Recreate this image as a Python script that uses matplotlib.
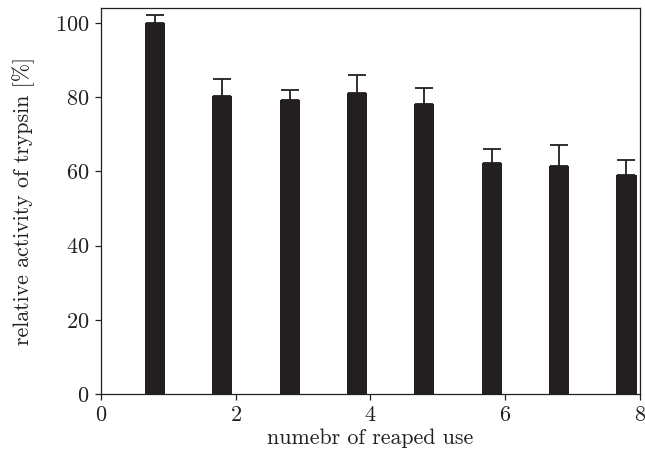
import matplotlib
matplotlib.use("Agg")
import matplotlib.pyplot as plt

# Relative trypsin activity over repeated uses
uses = [1, 2, 3, 4, 5, 6, 7, 8]
activity = [100.0, 80.2, 79.3, 81.2, 78.2, 62.2, 61.3, 59.1]
err_upper = [2.0, 4.8, 2.7, 4.8, 4.2, 3.8, 5.7, 4.0]
x_ticks = [0, 2, 4, 6, 8]
y_ticks = [0, 20, 40, 60, 80, 100]

plt.rcParams["font.family"] = "serif"
plt.rcParams["font.serif"] = ["cmr10", "DejaVu Serif"]
plt.rcParams["mathtext.fontset"] = "cm"
plt.rcParams["axes.formatter.use_mathtext"] = True
plt.rcParams["axes.unicode_minus"] = False

fig = plt.figure(figsize=(6.45, 4.54), dpi=100)
ax = fig.add_axes([0.1566, 0.1322, 0.8356, 0.8502])

pos = [u - 0.2 for u in uses]
ax.bar(pos, activity, width=0.3, color="#231f20", zorder=2)
ax.errorbar(pos, activity, yerr=[[0] * len(err_upper), err_upper],
            fmt="none", ecolor="#231f20", elinewidth=1.3, capsize=6.5,
            capthick=1.3, zorder=3)

ax.set_xlim(0, 8)
ax.set_ylim(0, 104)
ax.set_xticks(x_ticks)
ax.set_yticks(y_ticks)
ax.tick_params(direction="out", length=4, width=0.9, labelsize=16,
               colors="#231f20", top=False, right=False, pad=4.5)
for s in ax.spines.values():
    s.set_linewidth(0.9)
    s.set_color("#231f20")

ax.set_xlabel("numebr of reaped use", fontsize=15.8, color="#231f20", labelpad=2)
ax.set_ylabel("relative activity of trypsin [%]", fontsize=15.8, color="#231f20", labelpad=14)

fig.savefig("out.png", dpi=100)
